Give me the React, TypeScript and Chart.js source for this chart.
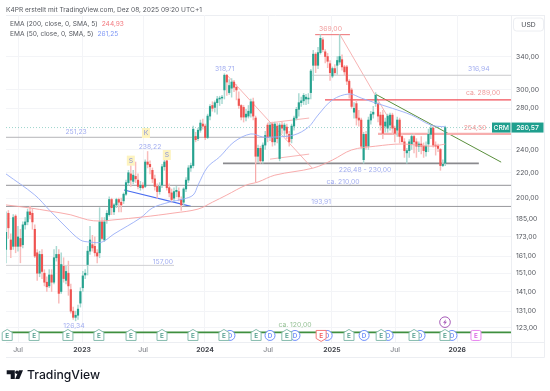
import React, { useEffect, useRef } from "react";
import { Chart, registerables } from "chart.js";

Chart.register(...registerables);

const FONT = "Inter, 'Noto Sans', sans-serif";

const opens = [
  165,189,171,167,187,167,172,168,181,183,
  190,189,178,163,151,162,151,146,144,150,
  146,160,162,141,155,147,151,142,131,128,
  129,135,143,150,156,164,168,167,163,163,
  183,171,184,188,199,190,195,199,197,198,
  203,212,219,213,217,214,208,210,209,229,
  227,222,215,209,205,210,225,230,208,204,
  200,205,205,199,197,207,214,224,226,252,
  250,258,264,262,251,272,283,281,286,290,
  291,300,317,297,302,309,303,290,283,281,
  271,272,275,287,270,234,241,230,244,263,
  252,264,247,262,232,263,258,261,254,250,
  262,270,279,286,288,290,290,297,329,343,
  329,345,362,346,340,331,316,325,329,333,
  336,327,327,310,300,276,285,270,268,231,
  254,243,268,274,285,285,273,273,262,260,
  263,273,260,258,268,252,247,237,239,245,
  252,247,243,245,243,238,245,254,260,244,
  243,240,226,228,
];
const highs = [
  190,191,175,188,188,180,178,183,186,192,
  194,192,181,165,164,165,153,149,153,153,
  165,167,165,163,160,155,158,145,133,131,
  134,143,152,153,167,180,174,173,165,193,
  186,186,191,201,200,196,200,200,200,204,
  214,222,226,222,229,219,213,212,231,238.22,
  230,224,218,211,212,227,232,232,211,207,
  208,209,208,201,208,216,226,228,262,256,
  260,268,269,264,274,284,287,288,293,293,
  294,318.71,318,312,313,311,306,298,284,283,
  279,283,290,291,272,244,243,246,257,265,
  265,266,266,265,265,266,265,264,257,264,
  272,281,296,292,296,295,296,324,348,345,
  352,369,365,349,344,335,327,330,340,369,
  342,329,329,312,302,286,288,278,270,256,
  257,271,277,282,297,287,276,278,270,274,
  275,275,262,271,270,255,250,241,249,254,
  255,250,247,252,246,247,259,263,262,247,
  245,241,231,262,
];
const lows = [
  157,172,160,165,163,164,157,166,178,181,
  185,178,160,147,149,148,144,141,143,141,
  145,158,135,140,146,145,139,130,127,126.34,
  127,133,141,148,150,162,164,161,157,160,
  171,170,182,187,188,188,193,190,190,196,
  202,210,209,211,212,207,206,207,208,224,
  219,212,206,200,203,208,222,206,201,197,
  198,201,198,191,195,205,212,221,224,247,
  248,256,259,249,250,268,277,276,274,283,
  285,290,294,295,292,298,289,280,268,266,
  267,270,271,268,228,229,228,228,240,247,
  248,243,244,246,230,255,252,250,243,246,
  258,268,272,282,284,284,285,290,311,320,
  325,343,346,332,326,311,314,318,318,330,
  323,317,306,291,280,270,263,262,241,228,
  240,240,264,270,282,266,258,250,256,256,
  258,254,247,252,246,247,233,228,233,240,
  237,233,238,236,233,234,238,250,242,235,
  238,222,225,226,
];
const closes = [
  176,179,165,186,167,173,167,181,183,190,
  188,183,161,151,162,152,146,143.5,150,146,
  160,162,140,156,148,152,144,131,128,129,
  132,141,149.5,151,164,171,166,163,161,183,
  172,183,189,199,193,195,199,197,195,203,
  212,220,214,218,215,209,210,208,229,227,
  225,215,209,205,209,225,229,208,204,199,
  205,206,201,195,207,214,224,226,259,249,
  258,265,262,251,272,282,280,286,290,291,
  292,317,309,305,309,303,300,283,271,271,
  274,277,287,272,234,241,230,244,253,251,
  263,247,264,250,263,260,263,255,247,262,
  270,279,286,288,294,292,291,322,343,329,
  345,364,349,340,334,320,325,320,335,340,
  327,321,310,297,282,280,270,268,243,254,
  243,268,274,276,294,272,263,255,266,272,
  273,260,255,268,252,247,239,239,247,252,
  247,243,245,243,239,243,254,260,244,243,
  241,226,227,260.57,
];

const ema50Weeks = [0,12,18,25,31,35,40,45,56,61,68,74,78,80,84,89,95,102,107,112,120,126,130,136,143,148,154,161,169,177,183];
const ema50Values = [219,202.4,191.4,179.5,171,169.7,169.7,174.9,185.7,192.8,197,199.4,202.4,210,224.8,233.4,246.9,254.4,251.5,251.5,253.4,261,273,289,295.5,291,285.7,280,273,263,261.25];
const ema200Weeks = [0,10,18,27,34,39,45,57,70,80,86,92,100,105,112,128,136,144,154,165,177,183];
const ema200Values = [195,192.8,190.6,187.9,184.4,183.6,184.4,186.4,189.2,192,197,202.4,210,212.5,218,223.9,230.7,239.6,243,245,243,244.93];

const priceTicks = [340,300,280,240,220,200,185,173,161,151,141,131,123];
const timeTickWeeks = [5,31.7,57.1,82.9,109.2,135.8,162.1,188];
const timeTickLabels = ["Jul","2023","Jul","2024","Jul","2025","Jul","2026"];

// [week1, price1, week2, price2, colour, line width]
const drawings: [number, number, number, number, string, number][] = [
  [0,251.23,112,251.23,"#b4b4b8",1],
  [0,209.8,210.4,209.8,"#a8a8ac",1.2],
  [0,193.91,210.4,193.91,"#98989c",1],
  [0,155.5,70,155.5,"#cfcfd2",1],
  [127.5,316.94,210.4,316.94,"#c9c9cc",1],
  [132.9,289,210.4,289,"#f2505a",1.2],
  [155,254.5,210.4,254.5,"#f7aeae",2.2],
  [128.8,369,143.3,369,"#ee7074",1],
  [139.2,368.7,164.2,250.5,"#f5a0a0",0.8],
  [92.1,317,127.5,224,"#f5a0a0",0.8],
  [104,271,104,212.5,"#f5a8a8",0.8],
  [109.2,265,126.3,270,"#f8b6b6",1],
  [110,231.5,126.3,235.9,"#f8b6b6",1],
  [90.4,227.8,197,227.8,"#8a8a8e",1.8],
  [49.2,206.2,77,194,"#4a6df0",1.2],
  [153.8,295.5,206.3,228.9,"#5a8f3c",1],
  [0,121,210.4,121,"#3f8f3f",1.6],
];

const blueLabel = "#a3aef0";
const pinkLabel = "#f09a9a";
// text, week, price, colour
const priceLabels: [string, number, number, string][] = [
  ["369,00",135.2,376.9,pinkLabel],
  ["318,71",91.1,325,blueLabel],
  ["316,94",197,324.4,blueLabel],
  ["ca. 289,00",198.8,296.6,pinkLabel],
  ["254,50",195.4,260.6,pinkLabel],
  ["226,48 - 230,00",149.6,222.7,blueLabel],
  ["ca. 210,00",140.4,212.8,blueLabel],
  ["193,91",131.3,197.2,blueLabel],
  ["251,23",29.2,256.7,blueLabel],
  ["238,22",60,242.3,blueLabel],
  ["157,00",65.4,157.4,blueLabel],
  ["126,34",28.3,124,blueLabel],
  ["ca. 120,00",120.4,124.4,"#97c297"],
];
const patternLabels: [string, number, number][] = [
  ["S",52,230.2],
  ["K",58.3,255.3],
  ["S",67,235.1],
];

const earningsWeeks = [0.5,11.7,25.8,38.7,52.1,65,77.9,90.8,104.2,117,131.3,142.9,156.3,170,182.9];
const earningsColors = ["g","g","g","g","g","g","g","g","g","g","r","g","g","g","g"];
const futureEarningsWeek = 195.8;
const dividendWeeks = [93.3,110,120.4,133.8,149.2,159.2,172.5,185.8];
const splitWeek = 182.9;
const eventPrice = 119.6;
const splitPrice = 125.7;

const headerText = "K4PR erstellt mit TradingView.com, Dez 08, 2025 09:20 UTC+1";
const legendRows: [string, string, string][] = [
  ["EMA (200, close, 0, SMA, 5)", "244,93", "#f2797f"],
  ["EMA (50, close, 0, SMA, 5)", "261,25", "#7f98f5"],
];

const UP = "#26a28f";
const DOWN = "#ef5350";
const UP_WICK = "#a9d9d2";
const DOWN_WICK = "#f8bcbb";

const overlay = {
  id: "overlay",
  beforeDraw(chart: any) {
    const c = chart.ctx;
    const a = chart.chartArea;
    c.save();
    c.fillStyle = "#fff";
    c.fillRect(0, 0, 550, 391);
    c.strokeStyle = "#eceef2";
    c.lineWidth = 1;
    c.beginPath();
    c.moveTo(a.left, a.bottom + 0.5); c.lineTo(544.5, a.bottom + 0.5);
    c.moveTo(a.left, 357.5); c.lineTo(544.5, 357.5);
    c.moveTo(a.right + 0.5, a.top); c.lineTo(a.right + 0.5, 357.5);
    c.moveTo(544.5, a.top); c.lineTo(544.5, 357.5);
    c.moveTo(a.left, a.top + 0.5); c.lineTo(544.5, a.top + 0.5);
    c.stroke();
    c.restore();
  },
  afterDraw(chart: any) {
    const c = chart.ctx;
    const x = chart.scales.x;
    const y = chart.scales.y;
    const a = chart.chartArea;
    c.save();
    c.textBaseline = "middle";

    c.fillStyle = "#55585f";
    c.font = `6.6px ${FONT}`;
    c.textAlign = "left";
    c.fillText(headerText, 6, 10);

    legendRows.forEach((row, i) => {
      const ty = 24.5 + i * 10;
      c.font = `6.6px ${FONT}`;
      c.fillStyle = "#55585f";
      c.fillText(row[0], 10, ty);
      const w = c.measureText(row[0]).width;
      c.fillStyle = row[2];
      c.fillText(row[1], 10 + w + 4, ty);
    });

    // USD box
    c.strokeStyle = "#eceef2";
    c.beginPath();
    c.roundRect(513.5, 18, 30, 13, 3);
    c.stroke();
    c.fillStyle = "#44474e";
    c.font = `6.8px ${FONT}`;
    c.textAlign = "center";
    c.fillText("USD", 528.5, 24.7);

    // Price labels
    c.font = `6.8px ${FONT}`;
    priceLabels.forEach(([t, w, p, col]) => {
      c.fillStyle = col;
      c.fillText(t, x.getPixelForValue(w), y.getPixelForValue(p));
    });

    patternLabels.forEach(([t, w, p]) => {
      const px = x.getPixelForValue(w);
      const py = y.getPixelForValue(p);
      c.fillStyle = "#fdf3bf";
      c.fillRect(px - 4, py - 5, 8, 10);
      c.fillStyle = "#8f98d8";
      c.fillText(t, px, py);
    });

    // Last price tag
    const last = closes[closes.length - 1];
    const ly = y.getPixelForValue(last);
    c.fillStyle = "#1f9f8e";
    c.fillRect(492, ly - 5, 18.5, 10);
    c.fillRect(511.5, ly - 5, 32, 10);
    c.fillStyle = "#fff";
    c.font = `500 6.8px ${FONT}`;
    c.fillText("CRM", 501.2, ly + 0.3);
    c.fillText(last.toFixed(2).replace(".", ","), 527.5, ly + 0.3);
    c.strokeStyle = "rgba(38,162,143,0.45)";
    c.setLineDash([1, 2]);
    c.beginPath();
    c.moveTo(a.left, ly); c.lineTo(492, ly);
    c.stroke();
    c.setLineDash([]);

    // Event markers
    const ey = y.getPixelForValue(eventPrice);
    c.font = `600 6.4px ${FONT}`;
    c.lineWidth = 1;
    dividendWeeks.forEach((w) => {
      const px = x.getPixelForValue(w);
      c.beginPath();
      c.arc(px, ey, 5, 0, Math.PI * 2);
      c.fillStyle = "#fff";
      c.fill();
      c.strokeStyle = "#6f8ffb";
      c.stroke();
      c.fillStyle = "#6f8ffb";
      c.fillText("D", px, ey + 0.3);
    });
    earningsWeeks.forEach((w, i) => {
      const px = x.getPixelForValue(w);
      const red = earningsColors[i] === "r";
      const col = red ? "#f47c7c" : "#86bcae";
      c.beginPath();
      if (red) {
        c.moveTo(px - 5, ey - 5); c.lineTo(px + 5, ey - 5); c.lineTo(px + 5, ey + 3);
        c.lineTo(px, ey + 6); c.lineTo(px - 5, ey + 3);
      } else {
        c.moveTo(px - 5, ey - 3); c.lineTo(px, ey - 6); c.lineTo(px + 5, ey - 3);
        c.lineTo(px + 5, ey + 5); c.lineTo(px - 5, ey + 5);
      }
      c.closePath();
      c.fillStyle = "#fff";
      c.fill();
      c.strokeStyle = col;
      c.stroke();
      c.fillStyle = red ? "#f05a5a" : "#4f9c8c";
      c.fillText("E", px, ey + 0.3);
    });
    {
      const px = x.getPixelForValue(futureEarningsWeek);
      c.beginPath();
      c.roundRect(px - 5, ey - 5, 10, 10, 1.5);
      c.fillStyle = "#fff";
      c.fill();
      c.strokeStyle = "#e884f0";
      c.stroke();
      c.fillStyle = "#d95fe2";
      c.fillText("E", px, ey + 0.3);
      const sx = x.getPixelForValue(splitWeek);
      const sy = y.getPixelForValue(splitPrice);
      c.beginPath();
      c.arc(sx, sy, 5.3, 0, Math.PI * 2);
      c.fillStyle = "#fff";
      c.fill();
      c.strokeStyle = "#a65bb8";
      c.stroke();
      c.fillStyle = "#a65bb8";
      c.beginPath();
      c.moveTo(sx + 1, sy - 3); c.lineTo(sx - 2, sy + 0.5); c.lineTo(sx - 0.2, sy + 0.5);
      c.lineTo(sx - 1, sy + 3); c.lineTo(sx + 2, sy - 0.5); c.lineTo(sx + 0.2, sy - 0.5);
      c.closePath();
      c.fill();
    }

    // TradingView logo
    c.fillStyle = "#131722";
    c.beginPath();
    c.moveTo(6.7, 370.3); c.lineTo(14.8, 370.3); c.lineTo(14.8, 379); c.lineTo(10.7, 379);
    c.lineTo(10.7, 374.3); c.lineTo(6.7, 374.3); c.closePath();
    c.moveTo(23, 370.3); c.lineTo(19.3, 379); c.lineTo(15.2, 379); c.lineTo(18.9, 370.3); c.closePath();
    c.fill();
    c.beginPath();
    c.arc(17, 372.2, 1.8, 0, Math.PI * 2);
    c.fill();
    c.font = `500 12.2px ${FONT}`;
    c.textAlign = "left";
    c.textBaseline = "alphabetic";
    c.fillText("TradingView", 27, 379);
    c.restore();
  },
};

export default function App() {
  const ref = useRef<HTMLCanvasElement>(null);
  useEffect(() => {
    document.body.style.margin = "0";
    const bodyColors = closes.map((v, i) => (v >= opens[i] ? UP : DOWN));
    const wickColors = closes.map((v, i) => (v >= opens[i] ? UP_WICK : DOWN_WICK));
    const chart = new Chart(ref.current as HTMLCanvasElement, {
      type: "bar",
      data: {
        datasets: [
          ...drawings.map(([w1, p1, w2, p2, col, lw]) => ({
            type: "line" as const,
            data: [{ x: w1, y: p1 }, { x: w2, y: p2 }],
            borderColor: col,
            borderWidth: lw,
            pointRadius: 0,
            order: 6,
          })),
          {
            type: "line" as const,
            data: ema200Weeks.map((w, i) => ({ x: w, y: ema200Values[i] })),
            borderColor: "#f7a3a3",
            borderWidth: 0.9,
            pointRadius: 0,
            tension: 0.35,
            order: 3,
          },
          {
            type: "line" as const,
            data: ema50Weeks.map((w, i) => ({ x: w, y: ema50Values[i] })),
            borderColor: "#98aef7",
            borderWidth: 0.9,
            pointRadius: 0,
            tension: 0.35,
            order: 3,
          },
          {
            data: lows.map((v, i) => ({ x: i, y: [v, highs[i]] })),
            backgroundColor: wickColors,
            barThickness: 0.8,
            grouped: false,
            order: 5,
          },
          {
            data: opens.map((v, i) => ({ x: i, y: [v, closes[i]] })),
            backgroundColor: bodyColors,
            barThickness: 1.5,
            grouped: false,
            order: 4,
          },
        ] as any,
      },
      options: {
        animation: false,
        responsive: false,
        layout: { padding: { left: 6, top: 15, right: 6, bottom: 33 } },
        plugins: { legend: { display: false }, tooltip: { enabled: false } },
        scales: {
          x: {
            type: "linear",
            min: 0,
            max: 210.4,
            offset: false,
            grid: { color: "#f3f4f7", offset: false, drawTicks: false },
            border: { display: false },
            afterBuildTicks(s: any) {
              s.ticks = timeTickWeeks.map((value) => ({ value }));
            },
            afterFit(s: any) {
              s.height = 16;
            },
            ticks: {
              autoSkip: false,
              maxRotation: 0,
              padding: 4,
              color: (ctx: any) => (timeTickLabels[ctx.index] === "Jul" ? "#6a6d75" : "#44474e"),
              font: (ctx: any) => ({
                family: FONT,
                size: 6.8,
                weight: timeTickLabels[ctx.index] === "Jul" ? "normal" : "bold",
              }),
              callback: (_v: any, i: number) => timeTickLabels[i],
            },
          },
          y: {
            type: "logarithmic",
            position: "right",
            min: 116.7,
            max: 397.2,
            grid: { color: "#f3f4f7", drawTicks: false },
            border: { display: false },
            afterBuildTicks(s: any) {
              s.ticks = priceTicks.map((value) => ({ value }));
            },
            afterFit(s: any) {
              s.width = 33;
            },
            ticks: {
              autoSkip: false,
              padding: 5,
              align: "center",
              crossAlign: "near",
              color: "#55585f",
              font: { family: FONT, size: 6.8 },
              callback: (v: any) => `${v},00`,
            },
          },
        },
      } as any,
      plugins: [overlay],
    } as any);
    return () => chart.destroy();
  }, []);
  return (
    <div style={{ position: "fixed", left: 0, top: 0, width: 550, height: 391 }}>
      <canvas ref={ref} width={550} height={391} style={{ display: "block" }} />
    </div>
  );
}
